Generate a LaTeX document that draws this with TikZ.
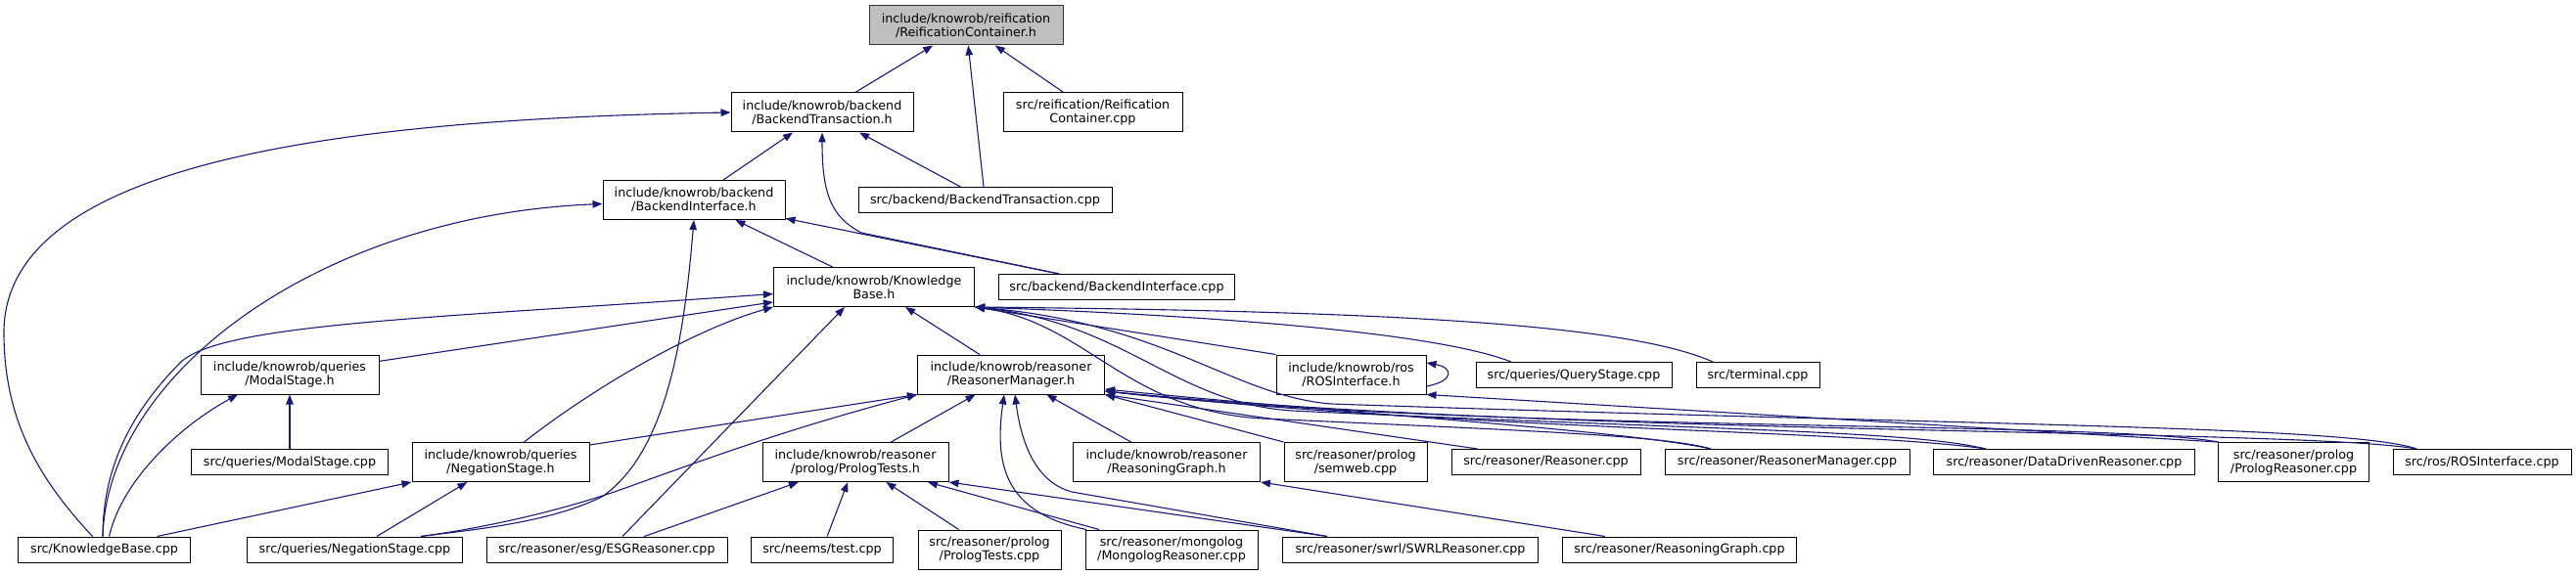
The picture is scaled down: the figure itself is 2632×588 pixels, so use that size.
\documentclass[tikz,border=0pt]{standalone}
\usepackage{fontspec}
\setmainfont{DejaVu Sans}
\usetikzlibrary{arrows.meta,calc}
\definecolor{edgeblue}{HTML}{191970}
\definecolor{rootgray}{HTML}{BFBFBF}
\begin{document}
\begin{tikzpicture}[x=1pt,y=-1pt,
  box/.style={draw=black, line width=1pt, fill=white, inner sep=0pt, align=center, font=\fontsize{12.7}{14}\selectfont},
  one/.style={box, minimum height=26pt},
  two/.style={box, minimum height=40pt},
  root/.style={two, fill=rootgray, draw=black!80},
  dep/.style={draw=edgeblue, line width=1.1pt, {Triangle[length=10pt,width=7.5pt]}-},
]
\useasboundingbox (0,0) rectangle (2632,588);

% nodes
\node[root, minimum width=198pt] (rch) at (987,26) {include/knowrob/reification\\/ReificationContainer.h};
\node[two, minimum width=186pt] (bth) at (840,115) {include/knowrob/backend\\/BackendTransaction.h};
\node[two, minimum width=183pt] (rccpp) at (1116.5,115) {src/reification/Reification\\Container.cpp};
\node[two, minimum width=186pt] (bih) at (709,204.5) {include/knowrob/backend\\/BackendInterface.h};
\node[one, minimum width=259pt] (btcpp) at (1006.5,204.5) {src/backend/BackendTransaction.cpp};
\node[two, minimum width=205pt] (kbh) at (893,293.5) {include/knowrob/Knowledge\\Base.h};
\node[one, minimum width=241pt] (bicpp) at (1141,293.5) {src/backend/BackendInterface.cpp};
\node[two, minimum width=182pt] (msh) at (296,383) {include/knowrob/queries\\/ModalStage.h};
\node[two, minimum width=191pt] (rmh) at (1033,383) {include/knowrob/reasoner\\/ReasonerManager.h};
\node[two, minimum width=153pt] (rosh) at (1380.5,383) {include/knowrob/ros\\/ROSInterface.h};
\node[one, minimum width=200pt] (qscpp) at (1608,383.5) {src/queries/QueryStage.cpp};
\node[one, minimum width=126pt] (termcpp) at (1796,383.5) {src/terminal.cpp};
\node[one, minimum width=201pt] (mscpp) at (296,472.5) {src/queries/ModalStage.cpp};
\node[two, minimum width=181pt] (nsh) at (511.5,472.5) {include/knowrob/queries\\/NegationStage.h};
\node[two, minimum width=190pt] (pth) at (874,472.5) {include/knowrob/reasoner\\/prolog/PrologTests.h};
\node[two, minimum width=191pt] (rgh) at (1192,472.5) {include/knowrob/reasoner\\/ReasoningGraph.h};
\node[two, minimum width=146pt] (semcpp) at (1385,472.5) {src/reasoner/prolog\\/semweb.cpp};
\node[one, minimum width=193pt] (rscpp) at (1579.5,472.5) {src/reasoner/Reasoner.cpp};
\node[one, minimum width=250pt] (rmcpp) at (1826,472.5) {src/reasoner/ReasonerManager.cpp};
\node[one, minimum width=267pt] (ddrcpp) at (2109,472.5) {src/reasoner/DataDrivenReasoner.cpp};
\node[two, minimum width=154pt] (prcpp) at (2343.5,472.5) {src/reasoner/prolog\\/PrologReasoner.cpp};
\node[one, minimum width=182pt] (roscpp) at (2536,472.5) {src/ros/ROSInterface.cpp};
\node[one, minimum width=176pt] (kbcpp) at (106.5,562) {src/KnowledgeBase.cpp};
\node[one, minimum width=220pt] (nscpp) at (362.5,562) {src/queries/NegationStage.cpp};
\node[one, minimum width=246pt] (esgcpp) at (620,562) {src/reasoner/esg/ESGReasoner.cpp};
\node[one, minimum width=145pt] (testcpp) at (840,562) {src/neems/test.cpp};
\node[two, minimum width=146pt] (ptcpp) at (1011,562) {src/reasoner/prolog\\/PrologTests.cpp};
\node[two, minimum width=176pt] (mgcpp) at (1197,562) {src/reasoner/mongolog\\/MongologReasoner.cpp};
\node[one, minimum width=261pt] (swrlcpp) at (1441,562) {src/reasoner/swrl/SWRLReasoner.cpp};
\node[one, minimum width=239pt] (rgcpp) at (1716,562) {src/reasoner/ReasoningGraph.cpp};

% edges (arrow tip at the included file)
\draw[dep] (rch) -- (bth);
\draw[dep] (rch) -- (btcpp);
\draw[dep] (rch) -- (rccpp);
\draw[dep] (bth) -- (bih);
\draw[dep] (bth) -- (btcpp);
\draw[dep] (bth.south) .. controls (840,200) and (850,222) .. (880,238) -- ($(bicpp.north)+(-59,0)$);
\draw[dep] (bth.west) .. controls (330,122) and (4,170) .. (4,340) .. controls (4,430) and (40,490) .. ($(kbcpp.north)+(-12,0)$);
\draw[dep] (bih) -- (kbh);
\draw[dep] (bih) -- ($(bicpp.north)+(-59,0)$);
\draw[dep] (bih.south) .. controls (700,330) and (685,460) .. (615,508) .. controls (560,535) and (480,542) .. ($(nscpp.north)+(67.5,0)$);
\draw[dep] ($(bih.west)+(0,4)$) .. controls (330,220) and (110,380) .. ($(kbcpp.north)+(-1.5,0)$);
\draw[dep] ($(kbh.west)+(0,7)$) .. controls (450,325) and (230,330) .. (185,370) .. controls (125,430) and (105,490) .. ($(kbcpp.north)+(-1.5,0)$);
\draw[dep] (kbh) -- (msh);
\draw[dep] (kbh.south west) .. controls (715,335) and (615,390) .. ($(nsh.north)+(24,0)$);
\draw[dep] ($(kbh.south)+(-30,0)$) -- ($(esgcpp.north)+(16,0)$);
\draw[dep] (kbh) -- (rmh);
\draw[dep] (kbh.south east) -- (rosh.north west);
\draw[dep] (kbh.south east) .. controls (1300,325) and (1480,345) .. ($(qscpp.north)+(-64,0)$);
\draw[dep] (kbh.south east) .. controls (1400,318) and (1660,330) .. ($(termcpp.north)+(-46,0)$);
\draw[dep] (kbh.south east) .. controls (1110,330) and (1150,420) .. (1290,428) .. controls (1550,440) and (1700,445) .. ($(rmcpp.north)+(-78,0)$);
\draw[dep] (kbh.south east) .. controls (1150,330) and (1200,412) .. (1320,420) .. controls (1750,440) and (1950,440) .. ($(ddrcpp.north)+(-80,0)$);
\draw[dep] (kbh.south east) .. controls (1190,330) and (1260,405) .. (1360,413) .. controls (2000,435) and (2400,435) .. ($(roscpp.north)+(-67,0)$);
\draw[dep] (rmh) -- (rgh);
\draw[dep] (rmh.south east) -- (semcpp.north west);
\draw[dep] (rmh.south east) -- ($(rscpp.north)+(-70,0)$);
\draw[dep] ($(rmh.east)+(0,15)$) .. controls (1400,425) and (1660,440) .. ($(rmcpp.north)+(-78,0)$);
\draw[dep] ($(rmh.east)+(0,17)$) .. controls (1500,440) and (1900,440) .. ($(ddrcpp.north)+(-80,0)$);
\draw[dep] ($(rmh.east)+(0,17)$) .. controls (1500,442) and (2150,430) .. ($(prcpp.north)+(-77,0)$);
\draw[dep] ($(rmh.east)+(0,17)$) .. controls (1600,446) and (2350,438) .. ($(roscpp.north)+(-67,0)$);
\draw[dep] (rosh.south east) -- ($(prcpp.north)+(-77,0)$);
\draw[dep] ($(rosh.east)+(0,-12)$) .. controls +(28,5) and +(28,-5) .. ($(rosh.east)+(0,12)$);
\draw[dep] (rmh) -- (pth);
\draw[dep] (pth) -- (esgcpp);
\draw[dep] (pth) -- (testcpp);
\draw[dep] (pth) -- (ptcpp);
\draw[dep] (pth) -- (mgcpp);
\draw[dep] (pth.south east) -- ($(swrlcpp.north)+(-85,0)$);
\draw[dep] ($(rmh.south)+(-7,0)$) .. controls (1015,480) and (1030,525) .. ($(mgcpp.north)+(-87,0)$);
\draw[dep] ($(rmh.south)+(4,0)$) .. controls (1045,465) and (1065,495) .. (1095,503) -- ($(swrlcpp.north)+(-85,0)$);
\draw[dep] (rgh.south east) -- ($(rgcpp.north)+(-76,0)$);
\draw[dep] (msh) -- (mscpp);
\draw[dep] ($(msh.south)+(-53,0)$) .. controls (185,435) and (125,490) .. ($(kbcpp.north)+(5,0)$);
\draw[dep] (nsh.south west) -- ($(kbcpp.north)+(54,0)$);
\draw[dep] (nsh) -- (nscpp);
\draw[dep] (rmh.south west) -- ($(nsh.north east)+(0,3)$);
\draw[dep] (rmh.south west) .. controls (800,440) and (720,470) .. (650,495) .. controls (570,525) and (480,542) .. ($(nscpp.north)+(67.5,0)$);
\end{tikzpicture}
\end{document}
